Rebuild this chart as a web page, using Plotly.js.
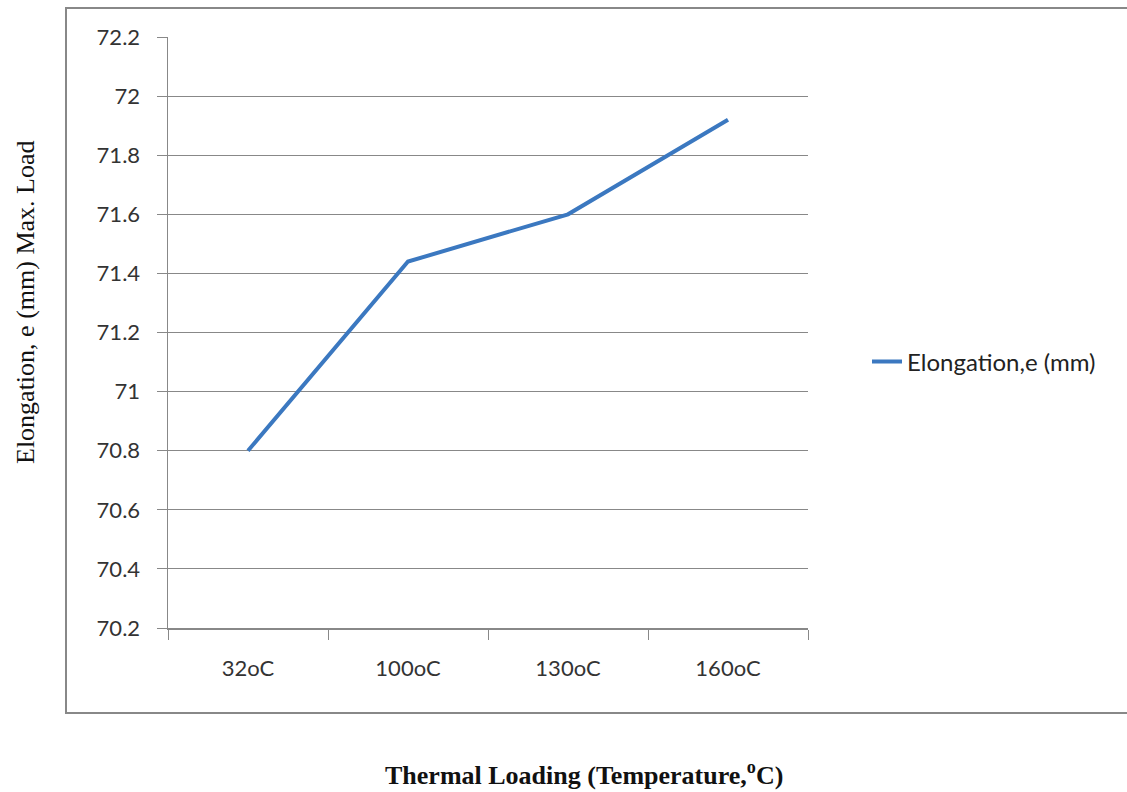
<!DOCTYPE html>
<html>
<head>
<meta charset="utf-8">
<script src="https://cdn.plot.ly/plotly-3.0.1.min.js"></script>
<style>html,body{margin:0;padding:0;background:#fff;}#chart{width:1127px;height:792px;}</style>
</head>
<body>
<div id="chart"></div>
<script>
const categories = ["32oC", "100oC", "130oC", "160oC"];
const elongation = [70.8, 71.44, 71.6, 71.92];
const seriesName = "Elongation,e (mm)";
const yTicks = [70.2, 70.4, 70.6, 70.8, 71, 71.2, 71.4, 71.6, 71.8, 72, 72.2];

const trace = {
  x: categories,
  y: elongation,
  type: "scatter",
  mode: "lines",
  name: seriesName,
  line: {color: "#3b78c0", width: 4}
};

const layout = {
  width: 1127, height: 792,
  margin: {l: 168, r: 319, t: 37, b: 164},
  paper_bgcolor: "#fff", plot_bgcolor: "#fff",
  font: {family: "Lato, 'Open Sans', sans-serif", color: "#333", size: 22},
  showlegend: true,
  legend: {x: (867 - 168) / 640, y: (628 - 362) / 591, xanchor: "left", yanchor: "middle",
           font: {size: 24, color: "#222"}, bgcolor: "rgba(0,0,0,0)"},
  xaxis: {
    type: "category", range: [-0.5, 3.5],
    showgrid: false, zeroline: false,
    showline: true, linecolor: "#888", linewidth: 1.5,
    ticks: "outside", tickson: "boundaries", ticklen: 10, tickcolor: "#888",
    ticklabelstandoff: 20,
    tickfont: {size: 22, color: "#333"}
  },
  yaxis: {
    range: [70.2, 72.2], tickvals: yTicks, ticktext: yTicks.map(String),
    showgrid: true, gridcolor: "#888", gridwidth: 1,
    zeroline: false, showline: true, linecolor: "#888", linewidth: 1.5,
    ticks: "outside", ticklen: 10, tickcolor: "#888",
    ticklabelstandoff: 12,
    tickfont: {size: 22, color: "#333"}
  },
  shapes: [{
    type: "rect", xref: "paper", yref: "paper",
    x0: (66 - 168) / 640, x1: (1135 - 168) / 640,
    y0: (628 - 713) / 591, y1: (628 - 8) / 591,
    line: {color: "#888", width: 2}, fillcolor: "rgba(0,0,0,0)", layer: "below"
  }],
  annotations: [
    {text: "Elongation, e (mm) Max. Load", textangle: -90,
     xref: "paper", yref: "paper", x: (25 - 168) / 640, y: (628 - 303) / 591,
     xanchor: "center", yanchor: "middle", showarrow: false,
     font: {family: "'Liberation Serif', 'Times New Roman', serif", size: 26, color: "#111"}},
    {text: "<b>Thermal Loading (Temperature,<sup>o</sup>C)</b>",
     xref: "paper", yref: "paper", x: (584 - 168) / 640, y: (628 - 773) / 591,
     xanchor: "center", yanchor: "middle", showarrow: false,
     font: {family: "'Liberation Serif', 'Times New Roman', serif", size: 26, color: "#111"}}
  ]
};

Plotly.newPlot("chart", [trace], layout, {displayModeBar: false, staticPlot: true});
</script>
</body>
</html>
